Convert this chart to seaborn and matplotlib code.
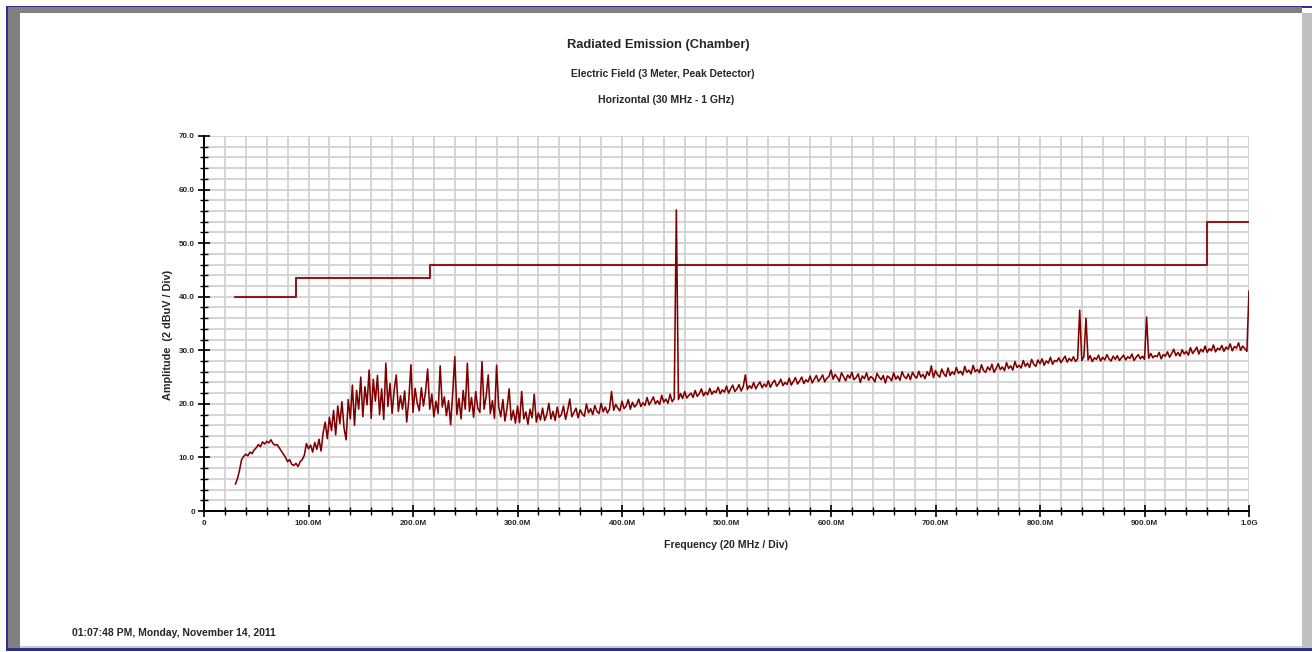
import numpy as np
import pandas as pd
import matplotlib
matplotlib.use("Agg")
import matplotlib.pyplot as plt
import seaborn as sns
from matplotlib.patches import Rectangle
from matplotlib.ticker import FixedLocator, MultipleLocator

# ---------------- data (MHz sweep, 2 MHz step per segment) ----------------
seg_starts = [30, 140, 330, 600]
sweep_step = 2

amp_30_138 = [
    5.0, 6.0, 7.6, 9.6, 10.2, 10.6, 10.3, 11.0, 10.7, 11.4,
    11.8, 12.4, 12.0, 12.9, 12.5, 13.0, 12.7, 13.3, 12.6, 12.3,
    12.4, 11.8, 11.2, 10.6, 10.0, 9.2, 9.6, 8.7, 8.5, 8.9,
    8.3, 9.2, 9.6, 10.4, 12.6, 11.6, 12.3, 11.0, 12.8, 11.5,
    13.4, 11.2, 14.6, 16.6, 13.5, 17.5, 15.0, 18.8, 14.2, 19.6,
    16.3, 20.4, 15.5, 13.3, 20.8,
]
amp_140_328 = [
    17.2, 23.5, 16.0, 22.5, 19.0,
    25.0, 17.6, 23.2, 19.8, 26.3, 17.3, 24.6, 20.5, 25.3, 18.0,
    22.8, 17.1, 27.6, 19.5, 23.8, 18.2, 22.6, 25.4, 18.6, 21.5,
    19.0, 22.4, 16.6, 20.8, 27.3, 18.4, 22.9, 20.2, 18.7, 23.0,
    19.6, 22.3, 26.5, 19.0, 21.8, 17.6, 20.5, 18.2, 27.1, 19.4,
    21.3, 17.8, 20.6, 16.1, 22.0, 28.8, 18.0, 21.0, 17.2, 22.5,
    19.0, 27.6, 18.6, 21.2, 17.5, 22.3, 19.2, 18.4, 27.9, 19.0,
    21.4, 25.4, 18.2, 20.6, 17.3, 27.2, 19.5, 17.6, 20.8, 16.8,
    19.2, 22.8, 17.0, 18.8, 16.4, 19.6, 16.5, 22.3, 17.2, 18.5,
    16.2, 19.0, 17.4, 21.8, 16.6, 18.3, 17.0, 19.2, 16.9, 18.0,
]
amp_330_598 = [
    20.1, 17.2, 18.6, 16.9, 19.4, 17.5, 18.0, 19.6, 17.1, 18.8,
    20.9, 17.6, 18.4, 19.2, 17.4, 18.9, 18.1, 17.7, 20.0, 18.3,
    19.1, 18.0, 19.7, 18.6, 18.2, 20.1, 18.5, 19.4, 18.3, 19.0,
    22.3, 18.8, 19.9, 19.2, 18.7, 20.5, 19.1, 19.6, 20.8, 19.0,
    20.3, 19.4, 19.9, 20.9, 19.5, 20.2, 19.7, 21.2, 19.8, 20.5,
    21.3, 20.0, 20.6, 19.9, 21.6, 20.3, 20.9, 20.1, 21.8, 20.4,
    21.0, 56.2, 20.8, 21.9, 21.0, 22.3, 21.1, 21.6, 22.0, 21.2,
    22.5, 21.4, 21.9, 22.8, 21.5, 22.2, 21.7, 22.9, 21.8, 22.4,
    22.1, 23.1, 21.9, 22.6, 22.2, 23.3, 22.0, 22.8, 23.5, 22.3,
    22.8, 23.6, 22.4, 23.2, 25.4, 22.7, 23.4, 22.9, 24.0, 22.8,
    23.5, 24.1, 23.0, 23.7, 23.2, 24.3, 23.1, 23.9, 24.4, 23.3,
    23.8, 24.6, 23.4, 24.0, 23.6, 24.8, 23.5, 24.2, 24.9, 23.7,
    24.3, 25.0, 23.8, 24.5, 24.1, 25.2, 23.9, 24.6, 25.3, 24.2,
    24.7, 25.4, 24.1, 24.8, 25.1,
]
amp_600_1000 = [
    26.3, 24.6, 25.5, 24.9, 24.2, 25.8, 25.1, 24.3, 25.4, 24.8,
    25.9, 24.5, 24.9, 25.6, 24.0, 25.2, 24.7, 25.8, 24.4, 25.1,
    24.8, 24.1, 25.7, 25.0, 24.5, 25.3, 23.9, 25.2, 24.9, 24.3,
    25.8, 24.6, 25.2, 24.4, 26.0, 25.1, 24.7, 25.6, 24.5, 25.9,
    25.2, 24.8, 26.1, 25.0, 25.5, 24.7, 26.0, 25.3, 27.1, 24.9,
    26.2, 25.4, 25.0, 26.5, 25.6, 25.1, 26.7, 25.3, 26.0, 25.5,
    26.8, 25.7, 26.1, 25.4, 27.0, 25.9, 26.3, 25.6, 27.2, 26.0,
    26.4, 25.8, 27.3, 26.2, 25.9, 26.9, 26.3, 27.4, 25.9, 26.6,
    27.5, 26.4, 26.9, 26.2, 27.7, 26.6, 27.1, 26.3, 27.9, 26.8,
    27.2, 26.7, 28.1, 27.0, 27.6, 26.8, 28.3, 27.4, 27.0, 28.2,
    27.5, 28.4, 27.2, 28.0, 27.6, 28.7, 27.4, 28.1, 27.9, 28.6,
    27.7, 28.3, 28.9, 27.8, 28.5, 28.0, 28.8, 27.9, 28.4, 37.5,
    28.1, 28.8, 36.0, 28.2, 29.0, 27.9, 28.6, 28.3, 29.1, 28.0,
    28.7, 28.2, 29.2, 28.4, 28.0, 28.9, 28.3, 29.0, 28.1, 28.6,
    29.1, 28.2, 28.8, 28.5, 29.3, 28.1, 28.7, 29.2, 28.4, 28.9,
    28.3, 36.2, 28.5, 29.4, 28.6, 29.0, 28.8, 29.6, 28.4, 29.2,
    28.9, 29.7, 28.7, 29.4, 30.2, 29.0, 29.6, 28.9, 30.1, 29.3,
    29.8, 29.1, 30.5, 29.4, 29.9, 30.6, 29.3, 30.2, 29.7, 30.8,
    29.6, 30.3, 29.9, 31.0, 29.7, 30.4, 30.1, 30.9, 29.8, 30.6,
    30.2, 31.2, 29.9, 30.7, 30.4, 31.4, 30.0, 30.8, 30.3, 29.8,
    41.1,
]

limit_freq = [30, 88, 216, 960, 1000]
limit_amp = [40.0, 43.5, 46.0, 54.0, 54.0]

x_ticks = [0, 100, 200, 300, 400, 500, 600, 700, 800, 900, 1000]
x_tick_labels = ["0", "100.0M", "200.0M", "300.0M", "400.0M", "500.0M",
                 "600.0M", "700.0M", "800.0M", "900.0M", "1.0G"]
y_ticks = [0, 10, 20, 30, 40, 50, 60, 70]
y_tick_labels = ["0", "10.0", "20.0", "30.0", "40.0", "50.0", "60.0", "70.0"]

title = "Radiated Emission (Chamber)"
subtitle1 = "Electric Field (3 Meter, Peak Detector)"
subtitle2 = "Horizontal (30 MHz - 1 GHz)"
x_label = "Frequency (20 MHz / Div)"
y_label = "Amplitude  (2 dBuV / Div)"
stamp = "01:07:48 PM, Monday, November 14, 2011"

# ---------------- build frames ----------------
segments = [amp_30_138, amp_140_328, amp_330_598, amp_600_1000]
freqs, amps = [], []
for start, seg in zip(seg_starts, segments):
    freqs.extend(start + sweep_step * np.arange(len(seg)))
    amps.extend(seg)
trace = pd.DataFrame({"freq": freqs, "amp": amps})
limit = pd.DataFrame({"freq": limit_freq, "amp": limit_amp})

# ---------------- figure ----------------
sns.set_theme(style="white")
plt.rcParams["font.family"] = ["Liberation Sans Narrow", "Liberation Sans", "DejaVu Sans"]
plt.rcParams["font.weight"] = "bold"

W, H = 1312, 652
fig = plt.figure(figsize=(W / 100, H / 100), dpi=100)
fig.patch.set_facecolor("white")


def px_rect(x0, y0, x1, y1, color):
    fig.add_artist(Rectangle((x0 / W, 1 - y1 / H), (x1 - x0) / W, (y1 - y0) / H,
                             transform=fig.transFigure, facecolor=color,
                             edgecolor="none", zorder=0))


# window frame
px_rect(6, 5.5, 1312, 7.5, "#2e3192")
px_rect(7, 7.5, 1302, 13, "#808080")
px_rect(6, 5.5, 7.5, 650, "#2e3192")
px_rect(7.5, 7.5, 20, 648, "#808080")
px_rect(1302, 13, 1312, 650, "#c0c0c0")
px_rect(20, 646, 1302, 648, "#c8c8c8")
px_rect(6, 648, 1312, 650.5, "#2e3192")

ax = fig.add_axes([204 / W, 1 - 511 / H, 1045 / W, 375 / H])
ax.set_facecolor("white")

sns.lineplot(data=limit, x="freq", y="amp", ax=ax, color="#8e1b1b", lw=1.5,
             drawstyle="steps-post", estimator=None, sort=False, zorder=3)
sns.lineplot(data=trace, x="freq", y="amp", ax=ax, color="#800000", lw=1.15,
             estimator=None, sort=False, zorder=4)

ax.set_xlim(0, 1000)
ax.set_ylim(0, 70)
ax.xaxis.set_major_locator(FixedLocator(x_ticks))
ax.set_xticklabels(x_tick_labels)
ax.xaxis.set_minor_locator(MultipleLocator(20))
ax.yaxis.set_major_locator(FixedLocator(y_ticks))
ax.set_yticklabels(y_tick_labels)
ax.yaxis.set_minor_locator(MultipleLocator(2))

ax.grid(True, which="both", color="#d2d2d2", lw=1.3)
ax.set_axisbelow(True)
for s in ["top", "right"]:
    ax.spines[s].set_visible(False)
for s in ["left", "bottom"]:
    ax.spines[s].set_color("black")
    ax.spines[s].set_linewidth(1.4)
    ax.spines[s].set_zorder(5)

ax.tick_params(which="major", direction="inout", length=9, width=1.2,
               color="black", labelsize=5.8, pad=2, bottom=True, left=True)
ax.tick_params(which="minor", direction="inout", length=6, width=1.0,
               color="black", bottom=True, left=True)
for lab in ax.get_xticklabels() + ax.get_yticklabels():
    lab.set_fontweight("bold")

ax.set_xlabel(x_label, fontsize=7.6, fontweight="bold", labelpad=9)
ax.set_ylabel(y_label, fontsize=7.8, fontweight="bold", labelpad=2)
ax.yaxis.set_label_coords(-0.03, 0.47)

fig.text(658 / W, 1 - 45 / H, title, ha="center", va="center",
         fontsize=9.3, fontweight="bold")
fig.text(663 / W, 1 - 74 / H, subtitle1, ha="center", va="center",
         fontsize=7.4, fontweight="bold")
fig.text(666 / W, 1 - 100 / H, subtitle2, ha="center", va="center",
         fontsize=7.6, fontweight="bold")
fig.text(72 / W, 1 - 633 / H, stamp, ha="left", va="center",
         fontsize=7.5, fontweight="bold")

fig.savefig("out.png", dpi=100, facecolor="white")
